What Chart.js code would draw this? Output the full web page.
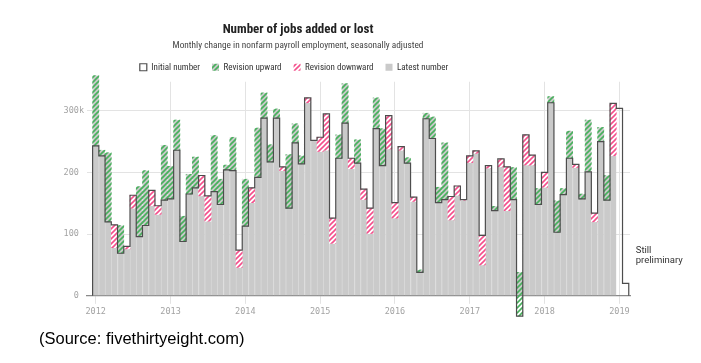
<!DOCTYPE html>
<html><head><meta charset="utf-8">
<script src="https://cdn.jsdelivr.net/npm/chart.js@4.4.1/dist/chart.umd.min.js"></script>
<style>
html,body{margin:0;padding:0;background:#fff;}
#wrap{position:relative;width:701px;height:363px;overflow:hidden;}
#source{position:absolute;left:39px;top:329px;font:16.5px "Liberation Sans",Arial,sans-serif;color:#000;white-space:nowrap;}
</style></head><body>
<div id="wrap"><canvas id="c" width="701" height="363"></canvas><div id="source">(Source: fivethirtyeight.com)</div></div>
<script>
// ---- data (thousands of jobs), Jan 2012 .. Feb 2019 ----
const yearLabels = ['2012','2013','2014','2015','2016','2017','2018','2019'];
const monthNames = ['Jan','Feb','Mar','Apr','May','Jun','Jul','Aug','Sep','Oct','Nov','Dec'];
const initialNumber = [
  243, 227, 120, 115, 69, 80, 163, 96, 114, 171, 146, 155,
  157, 236, 88, 165, 175, 195, 162, 169, 148, 204, 203, 74,
  113, 175, 192, 288, 217, 288, 209, 142, 248, 214, 321, 252,
  257, 295, 126, 223, 280, 223, 215, 173, 142, 271, 211, 292,
  151, 242, 215, 160, 38, 287, 255, 151, 156, 161, 178, 156,
  227, 235, 98, 211, 138, 222, 209, 156, -33, 261, 228, 148,
  200, 313, 103, 164, 223, 213, 157, 201, 134, 250, 155, 312,
  304, 20
];
const latestNumber = [
  357, 236, 232, 78, 114, 76, 142, 177, 203, 146, 132, 244,
  210, 285, 129, 197, 225, 162, 121, 260, 189, 212, 257, 46,
  189, 151, 272, 329, 245, 303, 203, 229, 279, 227, 313, 252,
  234, 236, 85, 261, 344, 206, 253, 156, 101, 321, 271, 238,
  126, 236, 224, 153, 42, 296, 290, 176, 248, 123, 163, 155,
  216, 231, 50, 207, 145, 209, 138, 208, 38, 212, 212, 174,
  176, 323, 154, 174, 267, 208, 165, 285, 120, 273, 195, 227,
  null, null
];
const yTickValues = [0, 100, 200, 300];
const noteLines = ['Still', 'preliminary'];
const seriesNames = ['Initial number', 'Revision upward', 'Revision downward', 'Latest number'];

const monthLabels = [];
yearLabels.forEach(y => monthNames.forEach(m => monthLabels.push(m + ' ' + y)));
monthLabels.length = initialNumber.length;

// ---- build tables for the library ----
const latestData = [], upData = [], downData = [];
initialNumber.forEach((ini, i) => {
  const lat = latestNumber[i];
  if (lat === null || lat === undefined) return;
  latestData.push({x: i, y: lat});
  if (lat > ini) upData.push({x: i, y: [ini, lat]});
  else if (lat < ini) downData.push({x: i, y: [lat, ini]});
});
const stepData = [{x: -0.5, y: 0}];
initialNumber.forEach((ini, i) => stepData.push({x: i - 0.5, y: ini}));
stepData.push({x: initialNumber.length - 0.5, y: 0});

// ---- styles ----
const NARROW = '"Liberation Sans Narrow", "Roboto Condensed", "DejaVu Sans Condensed", sans-serif';
const MONO = '"DejaVu Sans Mono", "Liberation Mono", monospace';
const GRAY = '#cacaca';
const GREEN = '#47b05c';
const PINK = '#f4508c';
const canvas = document.getElementById('c');
const mainCtx = canvas.getContext('2d');
function makeHatch(color, bg) {
  const s = 5, c = document.createElement('canvas');
  c.width = s; c.height = s;
  const x = c.getContext('2d');
  if (bg) { x.fillStyle = bg; x.fillRect(0, 0, s, s); }
  x.strokeStyle = color; x.lineWidth = 1.6;
  x.beginPath();
  x.moveTo(0, s); x.lineTo(s, 0);
  x.moveTo(-1, 1); x.lineTo(1, -1);
  x.moveTo(s - 1, s + 1); x.lineTo(s + 1, s - 1);
  x.stroke();
  return mainCtx.createPattern(c, 'repeat');
}
const upPattern = makeHatch(GREEN, null);
const upLegendPattern = makeHatch(GREEN, GRAY);
const downPattern = makeHatch(PINK, '#ffffff');

const shiftTop = {
  id: 'shiftTop',
  afterLayout(chart) {
    chart.boxes.forEach(b => {
      if (b.position === 'top') {
        const dx = (b === chart.legend) ? -53 : -49;
        b.left += dx; b.right += dx;
      }
    });
  }
};
const notePlugin = {
  id: 'note',
  afterDatasetsDraw(chart) {
    const {ctx, scales: {x, y}} = chart;
    ctx.save();
    ctx.font = '9.5px Roboto, sans-serif';
    ctx.fillStyle = '#333';
    ctx.textBaseline = 'middle';
    ctx.textAlign = 'left';
    const px = x.getPixelForValue(initialNumber.length - 0.5) + 7;
    ctx.fillText(noteLines[0], px, y.getPixelForValue(73));
    ctx.fillText(noteLines[1], px, y.getPixelForValue(57));
    ctx.restore();
  }
};

new Chart(canvas, {
  type: 'bar',
  data: {
    datasets: [
      {type: 'line', label: seriesNames[0], data: stepData, stepped: 'before',
       borderColor: '#4d4d4d', backgroundColor: '#ffffff', borderWidth: 1.2,
       pointRadius: 0, fill: false, clip: false, tension: 0},
      {label: seriesNames[1], data: upData, backgroundColor: upPattern, borderWidth: 0,
       grouped: false, barPercentage: 1, categoryPercentage: 1, clip: false},
      {label: seriesNames[2], data: downData, backgroundColor: downPattern, borderWidth: 0,
       grouped: false, barPercentage: 1, categoryPercentage: 1, clip: false},
      {label: seriesNames[3], data: latestData, backgroundColor: GRAY, borderColor: '#d8d8d8',
       borderWidth: {left: 1, right: 0, top: 0, bottom: 0}, borderSkipped: false,
       grouped: false, barPercentage: 1, categoryPercentage: 1, clip: false}
    ]
  },
  options: {
    responsive: false,
    animation: false,
    devicePixelRatio: 1,
    layout: {padding: {top: 14, left: 64, right: 71, bottom: 37.2}},
    plugins: {
      title: {display: true, text: 'Number of jobs added or lost', color: '#222',
              font: {family: NARROW, size: 13, weight: 'bold'}, padding: {top: 8, bottom: 0}},
      subtitle: {display: true, text: 'Monthly change in nonfarm payroll employment, seasonally adjusted',
                 color: '#444', font: {family: NARROW, size: 9.3}, padding: {top: 2, bottom: 0}},
      legend: {
        display: true, position: 'top',
        labels: {
          boxWidth: 7, boxHeight: 7, padding: 12, color: '#333',
          font: {family: NARROW, size: 9},
          generateLabels(chart) {
            const items = Chart.defaults.plugins.legend.labels.generateLabels(chart);
            items.forEach(it => {
              if (it.datasetIndex === 1) { it.fillStyle = upLegendPattern; it.lineWidth = 0; }
              if (it.datasetIndex === 2) { it.lineWidth = 0; }
              if (it.datasetIndex === 3) { it.lineWidth = 0; }
            });
            return items;
          }
        }
      },
      tooltip: {enabled: false}
    },
    scales: {
      x: {
        type: 'linear', min: -1.4, max: 85.7, offset: false,
        afterBuildTicks: s => { s.ticks = yearLabels.map((_, k) => ({value: k * 12})); },
        afterFit: s => { s.height = 30; },
        ticks: {callback: (v, idx) => yearLabels[idx], color: '#a3a3a3', font: {family: MONO, size: 8.5},
                padding: 3, maxRotation: 0, autoSkip: false},
        grid: {color: '#e3e3e3', lineWidth: 1, offset: false, drawTicks: true, tickLength: 8, tickColor: '#e3e3e3'},
        border: {display: true, color: '#8a8a8a', width: 1.2}
      },
      y: {
        min: 0, max: 347,
        afterBuildTicks: s => { s.ticks = yTickValues.map(v => ({value: v})); },
        afterFit: s => { s.width = 23; },
        ticks: {callback: (v, idx) => String(v) + (idx === yTickValues.length - 1 ? 'k' : ' '),
                color: '#a3a3a3', font: {family: MONO, size: 8.5}, padding: 3},
        grid: {color: c => (c.tick && c.tick.value === 0) ? 'rgba(0,0,0,0)' : '#e3e3e3', drawTicks: false},
        border: {display: false}
      }
    }
  },
  plugins: [shiftTop, notePlugin]
});
</script>
</body></html>
